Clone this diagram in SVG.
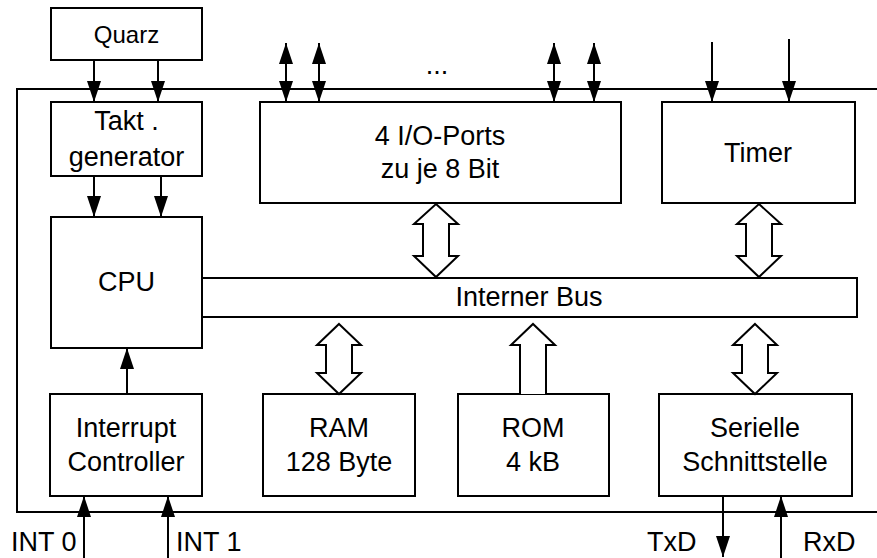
<svg xmlns="http://www.w3.org/2000/svg" width="877" height="558" viewBox="0 0 877 558">
<style>
  .box { fill: #fff; stroke: #000; stroke-width: 2; }
  .ln { fill: none; stroke: #000; stroke-width: 2; }
  .hollow { fill: #fff; stroke: #000; stroke-width: 2; stroke-linejoin: miter; }
  .t { font-family: "Liberation Sans", Arial, sans-serif; font-size: 27px; fill: #000; text-anchor: middle; }
  .s { font-family: "Liberation Sans", Arial, sans-serif; font-size: 24px; fill: #000; text-anchor: middle; }
  .l { font-family: "Liberation Sans", Arial, sans-serif; font-size: 27px; fill: #000; }
</style>
<defs>
  <marker id="ah" markerUnits="userSpaceOnUse" markerWidth="21" markerHeight="14" refX="21" refY="7" orient="auto-start-reverse">
    <path d="M0,0 L21,7 L0,14 Z" fill="#000"/>
  </marker>
</defs>
<rect width="877" height="558" fill="#fff"/>

<g id="frame">
  <polyline class="ln" points="877,89 17,89 17,512 877,512"/>
</g>

<g id="quarz">
  <rect class="box" x="51" y="8" width="151" height="52"/>
  <text class="s" x="126.5" y="43">Quarz</text>
</g>
<g id="takt">
  <rect class="box" x="51" y="102" width="151" height="74"/>
  <text class="t" x="126.5" y="130">Takt .</text>
  <text class="t" x="126.5" y="166">generator</text>
</g>
<g id="cpu">
  <rect class="box" x="51" y="217" width="151" height="131"/>
  <text class="t" x="126.5" y="291">CPU</text>
</g>
<g id="io">
  <rect class="box" x="260" y="102" width="361" height="101"/>
  <text class="t" x="440" y="145">4 I/O-Ports</text>
  <text class="t" x="440" y="178">zu je 8 Bit</text>
  <text class="t" x="437" y="74">...</text>
</g>
<g id="timer">
  <rect class="box" x="662" y="102" width="193" height="101"/>
  <text class="t" x="758" y="162">Timer</text>
</g>
<g id="bus">
  <rect class="box" x="202" y="278" width="655" height="39"/>
  <text class="t" x="529" y="306">Interner Bus</text>
</g>
<g id="interrupt">
  <rect class="box" x="50" y="394" width="152" height="102"/>
  <text class="t" x="126" y="437">Interrupt</text>
  <text class="t" x="126" y="471">Controller</text>
</g>
<g id="ram">
  <rect class="box" x="263" y="394" width="152" height="102"/>
  <text class="t" x="339" y="437">RAM</text>
  <text class="t" x="339" y="471">128 Byte</text>
</g>
<g id="rom">
  <rect class="box" x="458" y="394" width="151" height="102"/>
  <text class="t" x="533" y="437">ROM</text>
  <text class="t" x="533" y="471">4 kB</text>
</g>
<g id="serial">
  <rect class="box" x="659" y="394" width="193" height="102"/>
  <text class="t" x="755" y="437">Serielle</text>
  <text class="t" x="755" y="471">Schnittstelle</text>
</g>

<g id="connectors">
  <line class="ln" x1="94" y1="60" x2="94" y2="102" marker-end="url(#ah)"/>
  <line class="ln" x1="158" y1="60" x2="158" y2="102" marker-end="url(#ah)"/>
  <line class="ln" x1="94" y1="176" x2="94" y2="217" marker-end="url(#ah)"/>
  <line class="ln" x1="161" y1="176" x2="161" y2="217" marker-end="url(#ah)"/>
  <line class="ln" x1="286" y1="43" x2="286" y2="102" marker-start="url(#ah)" marker-end="url(#ah)"/>
  <line class="ln" x1="319" y1="43" x2="319" y2="102" marker-start="url(#ah)" marker-end="url(#ah)"/>
  <line class="ln" x1="554" y1="43" x2="554" y2="102" marker-start="url(#ah)" marker-end="url(#ah)"/>
  <line class="ln" x1="594" y1="43" x2="594" y2="102" marker-start="url(#ah)" marker-end="url(#ah)"/>
  <line class="ln" x1="712" y1="42" x2="712" y2="102" marker-end="url(#ah)"/>
  <line class="ln" x1="789" y1="39" x2="789" y2="102" marker-end="url(#ah)"/>
  <line class="ln" x1="127" y1="394" x2="127" y2="348" marker-end="url(#ah)"/>
  <line class="ln" x1="84" y1="558" x2="84" y2="496" marker-end="url(#ah)"/>
  <line class="ln" x1="168" y1="558" x2="168" y2="496" marker-end="url(#ah)"/>
  <line class="ln" x1="723" y1="496" x2="723" y2="557" marker-end="url(#ah)"/>
  <line class="ln" x1="781" y1="558" x2="781" y2="496" marker-end="url(#ah)"/>
  <path class="hollow" d="M436,204 L458,224 L449,224 L449,256 L458,256 L436,277 L414,256 L423,256 L423,224 L414,224 Z"/>
  <path class="hollow" d="M759,204 L781,224 L772,224 L772,256 L781,256 L759,277 L737,256 L746,256 L746,224 L737,224 Z"/>
  <path class="hollow" d="M339,324 L361,345 L352,345 L352,373 L361,373 L339,394 L317,373 L326,373 L326,345 L317,345 Z"/>
  <path class="hollow" d="M755,324 L777,345 L768,345 L768,373 L777,373 L755,394 L733,373 L742,373 L742,345 L733,345 Z"/>
  <polyline class="hollow" points="520,394 520,345 511,345 533,324 555,345 546,345 546,394"/>
</g>

<g id="labels">
  <text class="l" x="11" y="551">INT 0</text>
  <text class="l" x="176" y="551">INT 1</text>
  <text class="l" x="647" y="551">TxD</text>
  <text class="l" x="803" y="551">RxD</text>
</g>
</svg>
